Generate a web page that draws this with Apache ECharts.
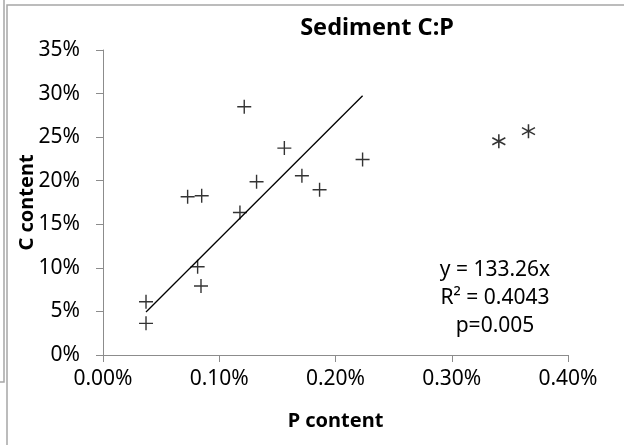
<!DOCTYPE html>
<html>
<head>
<meta charset="utf-8">
<script src="https://cdn.jsdelivr.net/npm/echarts@6/dist/echarts.min.js"></script>
<style>
  html, body { margin: 0; padding: 0; background: #fff; }
  #chart { width: 624px; height: 445px; }
</style>
</head>
<body>
<div id="chart"></div>
<script>
// Sediment samples: P content and C content (as fractions)
const pContent = [0.00037, 0.00037, 0.000728, 0.000849, 0.000814, 0.000843, 0.001178,
                  0.001215, 0.001321, 0.00156, 0.001711, 0.001863, 0.002233];
const cContent = [0.0611, 0.0363, 0.1816, 0.1827, 0.1013, 0.0791, 0.1636,
                  0.2848, 0.1988, 0.2374, 0.2057, 0.1896, 0.2244];

// Outlier samples excluded from the regression
const pOutlier = [0.003405, 0.00366];
const cOutlier = [0.2454, 0.2569];

// Regression through the origin: y = slope * x
const slope = 133.26;
const fitLabels = ['y = 133.26x', 'R² = 0.4043', 'p=0.005'];

const xTicks = { min: 0, max: 0.004, step: 0.001 };
const yTicks = { min: 0, max: 0.35, step: 0.05 };

const FONT = '"Noto Sans", "Open Sans", sans-serif';

const mainPts = pContent.map((p, i) => [p, cContent[i]]);
const outPts = pOutlier.map((p, i) => [p, cOutlier[i]]);
const xLo = Math.min(...pContent), xHi = Math.max(...pContent);
const fitLine = [[xLo, slope * xLo], [xHi, slope * xHi]];

const plusSym = 'path://M0,-1L0,1M-1,0L1,0';
const starSym = 'path://M0,-1L0,1M-0.866,-0.5L0.866,0.5M-0.866,0.5L0.866,-0.5';

const chart = echarts.init(document.getElementById('chart'));
chart.setOption({
  animation: false,
  backgroundColor: '#fff',
  grid: { left: 103, right: 56, top: 50, bottom: 90, containLabel: false },
  xAxis: {
    type: 'value',
    min: xTicks.min, max: xTicks.max, interval: xTicks.step,
    name: 'P content',
    nameLocation: 'middle',
    nameGap: 56,
    nameTextStyle: { fontFamily: FONT, fontSize: 20, fontWeight: 'bold', color: '#000' },
    axisLine: { show: true, lineStyle: { color: '#8c8c8c', width: 1 } },
    axisTick: { show: true, length: 7, lineStyle: { color: '#8c8c8c', width: 1 } },
    axisLabel: {
      margin: 14, fontFamily: FONT, fontSize: 21, color: '#000',
      formatter: v => (v * 100).toFixed(2) + '%'
    },
    splitLine: { show: false }
  },
  yAxis: {
    type: 'value',
    min: yTicks.min, max: yTicks.max, interval: yTicks.step,
    name: 'C content',
    nameLocation: 'middle',
    nameRotate: 90,
    nameGap: 66,
    nameMoveOverlap: false,
    nameTextStyle: { fontFamily: FONT, fontSize: 20, fontWeight: 'bold', color: '#000' },
    axisLine: { show: true, lineStyle: { color: '#8c8c8c', width: 1 } },
    axisTick: { show: true, inside: false, length: 7, lineStyle: { color: '#8c8c8c', width: 1 } },
    axisLabel: {
      margin: 23, fontFamily: FONT, fontSize: 21, color: '#000',
      formatter: v => Math.round(v * 100) + '%'
    },
    splitLine: { show: false }
  },
  graphic: [
    // chart frame and neighbouring frame edge
    { type: 'rect', shape: { x: 7, y: 5, width: 700, height: 600 },
      style: { fill: 'none', stroke: '#a6a6a6', lineWidth: 1.5 }, silent: true },
    { type: 'polyline', shape: { points: [[4, 0], [4, 382], [0, 382]] },
      style: { fill: 'none', stroke: '#a6a6a6', lineWidth: 1.5 }, silent: true },
    { type: 'text', x: 377, y: 28,
      style: { text: 'Sediment C:P', fontFamily: FONT, fontSize: 23.5, fontWeight: 'bold',
               fill: '#000', align: 'center', verticalAlign: 'middle' } },
    { type: 'text', x: 495, y: 270,
      style: { text: fitLabels[0], fontFamily: FONT, fontSize: 21, fill: '#000',
               align: 'center', verticalAlign: 'middle' } },
    { type: 'text', x: 495, y: 298,
      style: { text: fitLabels[1], fontFamily: FONT, fontSize: 21, fill: '#000',
               align: 'center', verticalAlign: 'middle' } },
    { type: 'text', x: 495, y: 326,
      style: { text: fitLabels[2], fontFamily: FONT, fontSize: 21, fill: '#000',
               align: 'center', verticalAlign: 'middle' } }
  ],
  series: [
    {
      type: 'line',
      data: fitLine,
      showSymbol: false,
      symbol: 'none',
      lineStyle: { color: '#000', width: 1.3 },
      z: 1
    },
    {
      type: 'scatter',
      data: mainPts,
      symbol: plusSym,
      symbolSize: 14,
      itemStyle: { color: 'rgba(0,0,0,0)', borderColor: '#000', borderWidth: 1.4 },
      z: 2
    },
    {
      type: 'scatter',
      data: outPts,
      symbol: starSym,
      symbolSize: [13, 14],
      itemStyle: { color: 'rgba(0,0,0,0)', borderColor: '#000', borderWidth: 1.6 },
      z: 2
    }
  ]
});
</script>
</body>
</html>
